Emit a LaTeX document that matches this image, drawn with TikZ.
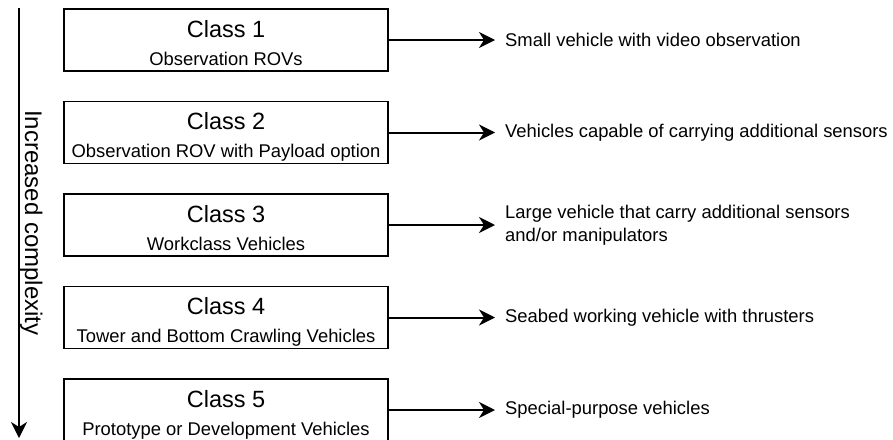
\documentclass[tikz,border=0pt]{standalone}
\usepackage{fontspec}
\setmainfont{Liberation Sans}
\usetikzlibrary{arrows.meta}
\begin{document}
\begin{tikzpicture}[
    x=1pt, y=-1pt,
    box/.style={draw, line width=1.4pt, minimum width=324pt, minimum height=62pt, inner sep=0pt},
    title/.style={font=\fontsize{23.5}{27}\selectfont, inner sep=0pt, anchor=base},
    sub/.style={font=\fontsize{18.4}{22}\selectfont, inner sep=0pt, anchor=base},
    desc/.style={font=\fontsize{18.4}{22.5}\selectfont, inner sep=0pt, anchor=west, align=left},
    arrow/.style={-{Stealth[length=16pt, width=16pt, inset=5pt]}, line width=2pt}
  ]
  \useasboundingbox (0,0) rectangle (893,439);

  % Complexity axis on the left
  \coordinate (top) at (19,8);
  \coordinate (bottom) at (19,438);
  \draw[arrow] (top) -- (bottom);
  \node[font=\fontsize{24}{28}\selectfont, inner sep=0pt, anchor=base, rotate=-90] (axis) at (25,223) {Increased complexity};

  % The five classes
  \node[box] (c1) at (226,40) {};
  \node[box] (c2) at (226,132.5) {};
  \node[box] (c3) at (226,225) {};
  \node[box] (c4) at (226,317.5) {};
  \node[box] (c5) at (226,410) {};

  \node[title] (t1) at ([yshift=3pt]c1.center) {Class 1};
  \node[sub] (s1) at ([yshift=-25pt]c1.center) {Observation ROVs};
  \node[title] (t2) at ([yshift=3pt]c2.center) {Class 2};
  \node[sub] (s2) at ([yshift=-25pt]c2.center) {Observation ROV with Payload option};
  \node[title] (t3) at ([yshift=3pt]c3.center) {Class 3};
  \node[sub] (s3) at ([yshift=-25pt]c3.center) {Workclass Vehicles};
  \node[title] (t4) at ([yshift=3pt]c4.center) {Class 4};
  \node[sub] (s4) at ([yshift=-25pt]c4.center) {Tower and Bottom Crawling Vehicles};
  \node[title] (t5) at ([yshift=3pt]c5.center) {Class 5};
  \node[sub] (s5) at ([yshift=-25pt]c5.center) {Prototype or Development Vehicles};

  % Descriptions on the right
  \node[desc] (d1) at (505,40) {Small vehicle with video observation};
  \node[desc] (d2) at (505,132.5) {Vehicles capable of carrying additional sensors};
  \node[desc] (d3) at (505,225) {Large vehicle that carry additional sensors\\and/or manipulators};
  \node[desc] (d4) at (505,317.5) {Seabed working vehicle with thrusters};
  \node[desc] (d5) at (505,410) {Special-purpose vehicles};

  \draw[arrow] (c1.east) -- ([xshift=-10pt]d1.west);
  \draw[arrow] (c2.east) -- ([xshift=-10pt]d2.west);
  \draw[arrow] (c3.east) -- ([xshift=-10pt]d3.west);
  \draw[arrow] (c4.east) -- ([xshift=-10pt]d4.west);
  \draw[arrow] (c5.east) -- ([xshift=-10pt]d5.west);

\end{tikzpicture}
\end{document}
